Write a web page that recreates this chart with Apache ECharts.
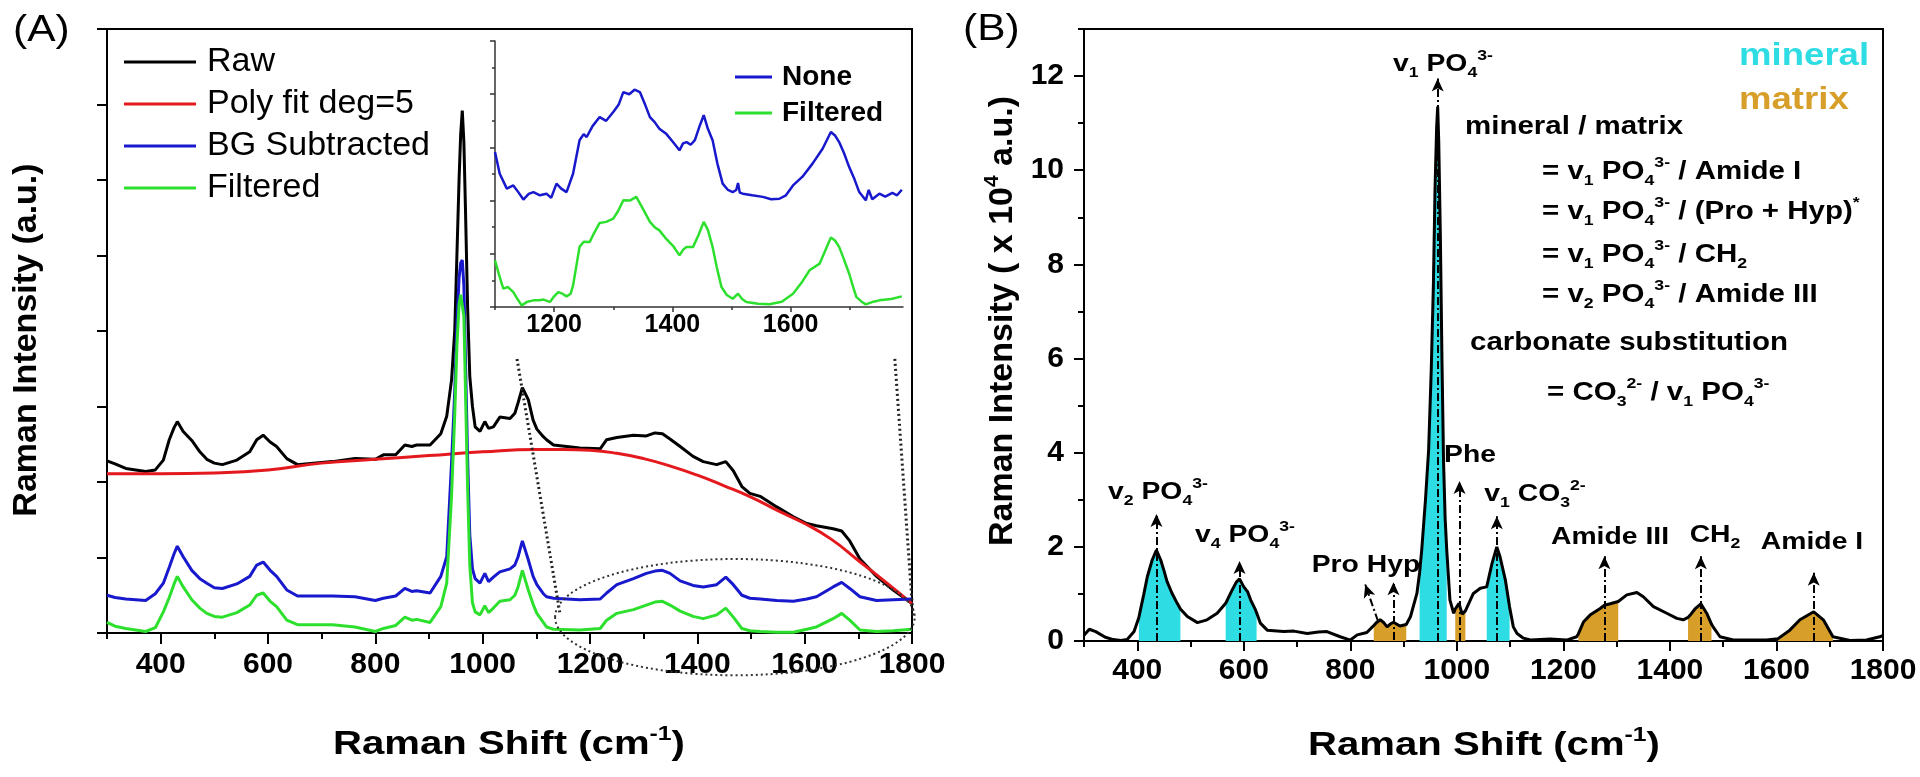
<!DOCTYPE html>
<html><head><meta charset="utf-8">
<script src="https://cdn.jsdelivr.net/npm/echarts@6/dist/echarts.min.js"></script>
<style>html,body{margin:0;padding:0;background:#fff}#c{width:1920px;height:777px}</style>
</head><body><div id="c"></div>
<script>
// ---------- Panel A data (Raman shift, intensity in axis units) ----------
const A_x = [300,315,335,372,390,405,416,425,431,442,458,473,486,500,515,542,566,579,591,604,616,635,655,684,720,762,800,815,838,855,868,877,902,922,933,942,948,952,956,959,962,965,968,972,976,981,986,995,1004,1011,1020,1032,1051,1060,1066,1074,1085,1094,1101,1113,1119,1132,1181,1219,1231,1250,1281,1305,1321,1335,1349,1368,1392,1411,1436,1453,1467,1483,1498,1517,1548,1579,1604,1622,1653,1669,1684,1703,1734,1765,1800];
const A_raw = [2.28,2.24,2.18,2.14,2.16,2.29,2.56,2.72,2.80,2.67,2.55,2.40,2.30,2.25,2.23,2.29,2.40,2.56,2.62,2.53,2.47,2.31,2.23,2.25,2.27,2.31,2.30,2.36,2.36,2.49,2.47,2.49,2.49,2.64,2.87,3.35,4.01,5.0,6.0,6.6,6.92,6.5,5.6,4.3,3.4,3.0,2.73,2.67,2.80,2.71,2.73,2.86,2.84,2.91,3.05,3.25,3.09,2.82,2.70,2.60,2.56,2.49,2.45,2.44,2.56,2.59,2.62,2.61,2.65,2.64,2.57,2.47,2.34,2.27,2.23,2.27,2.15,1.94,1.85,1.81,1.67,1.54,1.45,1.42,1.38,1.35,1.22,0.98,0.75,0.57,0.39];
const A_bg = [0.50,0.47,0.45,0.43,0.52,0.66,0.87,1.05,1.15,1.01,0.83,0.72,0.66,0.60,0.59,0.65,0.75,0.90,0.94,0.83,0.75,0.57,0.49,0.49,0.49,0.48,0.43,0.46,0.49,0.59,0.55,0.56,0.53,0.75,1.01,2.25,3.2,4.1,4.7,4.9,4.94,4.6,3.6,2.3,1.3,0.85,0.72,0.66,0.79,0.68,0.74,0.81,0.85,0.90,1.01,1.22,0.97,0.75,0.64,0.52,0.48,0.46,0.44,0.45,0.53,0.64,0.72,0.79,0.82,0.83,0.79,0.69,0.63,0.61,0.64,0.74,0.64,0.50,0.46,0.45,0.43,0.42,0.45,0.48,0.61,0.67,0.59,0.48,0.43,0.44,0.45];
const A_filt = [0.14,0.09,0.06,0.02,0.07,0.28,0.47,0.65,0.75,0.61,0.44,0.33,0.26,0.22,0.21,0.27,0.37,0.50,0.53,0.42,0.35,0.17,0.11,0.11,0.11,0.08,0.02,0.06,0.10,0.21,0.17,0.18,0.14,0.35,0.66,1.81,2.9,3.8,4.35,4.48,4.50,4.2,3.2,1.9,0.9,0.40,0.28,0.24,0.36,0.27,0.33,0.42,0.44,0.50,0.61,0.83,0.57,0.38,0.26,0.14,0.08,0.05,0.04,0.06,0.17,0.26,0.31,0.37,0.41,0.42,0.37,0.29,0.22,0.19,0.24,0.33,0.21,0.06,0.03,0.02,0.01,0.01,0.05,0.08,0.19,0.26,0.17,0.04,0.02,0.03,0.05];
const A_polyX = [300,400,500,600,700,800,900,1000,1100,1150,1200,1250,1300,1350,1400,1450,1500,1550,1600,1650,1700,1750,1800];
const A_poly = [2.11,2.11,2.12,2.16,2.25,2.30,2.35,2.40,2.43,2.43,2.42,2.38,2.31,2.21,2.09,1.95,1.80,1.62,1.45,1.24,0.96,0.68,0.39];

// ---------- Inset data ----------
const I_noneX = [1100,1108,1120,1131,1140,1148,1157,1165,1176,1187,1195,1204,1212,1221,1232,1243,1250,1255,1265,1277,1288,1300,1309,1317,1327,1336,1345,1354,1362,1370,1378,1390,1401,1412,1418,1424,1431,1438,1446,1453,1460,1468,1476,1485,1494,1502,1508,1511,1514,1519,1535,1553,1567,1581,1592,1604,1620,1637,1654,1668,1675,1682,1690,1699,1708,1716,1727,1732,1738,1750,1760,1772,1780,1788];
const I_none = [5.83,5.01,4.45,4.57,4.30,4.04,4.25,4.32,4.20,4.26,4.10,4.64,4.45,4.32,5.01,6.27,6.50,6.39,6.80,7.14,7.00,7.33,7.60,8.08,8.00,8.17,8.08,7.60,7.14,6.95,6.70,6.50,6.20,5.89,6.15,6.20,6.10,6.27,6.80,7.21,6.70,6.27,5.40,4.64,4.40,4.32,4.40,4.66,4.30,4.26,4.20,4.14,4.05,4.07,4.20,4.57,4.90,5.39,5.95,6.58,6.45,6.20,5.80,5.26,4.80,4.32,4.01,4.40,4.05,4.26,4.15,4.29,4.20,4.41];
const I_filtX = [1100,1107,1114,1122,1131,1138,1145,1155,1165,1175,1182,1193,1200,1207,1214,1221,1228,1232,1238,1243,1250,1260,1268,1277,1288,1300,1308,1317,1328,1339,1350,1362,1370,1378,1390,1401,1412,1418,1424,1435,1444,1453,1460,1468,1475,1483,1492,1502,1511,1518,1525,1545,1564,1585,1604,1618,1632,1649,1660,1668,1675,1682,1690,1699,1705,1711,1720,1727,1740,1750,1770,1788];
const I_filt = [1.75,1.20,0.69,0.75,0.56,0.30,0.06,0.20,0.25,0.25,0.28,0.19,0.40,0.56,0.50,0.40,0.50,0.81,1.60,2.26,2.45,2.44,2.80,3.16,3.20,3.32,3.60,4.01,4.00,4.14,3.70,3.20,3.00,2.88,2.55,2.30,1.94,2.15,2.26,2.26,2.70,3.20,2.90,2.26,1.50,0.75,0.45,0.31,0.50,0.30,0.19,0.12,0.10,0.20,0.50,0.90,1.38,1.63,2.20,2.61,2.50,2.26,1.80,1.25,0.80,0.38,0.20,0.10,0.20,0.25,0.30,0.40];

// ---------- Panel B data (x 10^4 a.u.) ----------
const B_x = [300,310,322,340,355,369,381,394,403,406,412,419,428,436,444,450,456,465,475,481,494,513,531,550,566,578,586,592,600,607,613,622,624,631,644,675,694,719,740,756,781,800,813,831,844,850,856,862,869,875,881,893,905,913,925,930,934,941,947,952,956,959,962,964,966,969,972,975,978,981,987,994,997,1004,1010,1016,1019,1031,1044,1056,1066,1075,1081,1091,1099,1106,1113,1125,1138,1175,1206,1225,1228,1238,1250,1269,1277,1288,1303,1319,1338,1350,1369,1394,1413,1425,1434,1438,1447,1458,1469,1478,1481,1494,1519,1556,1581,1603,1625,1644,1670,1688,1706,1738,1769,1794,1800];
const B_y = [0.12,0.25,0.20,0.08,0.03,0.01,0.03,0.20,0.50,0.66,0.98,1.37,1.72,1.93,1.72,1.50,1.26,1.02,0.80,0.68,0.52,0.39,0.45,0.59,0.80,1.08,1.25,1.32,1.15,1.05,0.87,0.66,0.60,0.38,0.23,0.20,0.21,0.16,0.19,0.20,0.09,0.02,0.13,0.18,0.33,0.40,0.45,0.40,0.30,0.36,0.40,0.32,0.35,0.52,1.01,1.45,1.93,2.99,4.06,5.8,7.6,9.6,10.9,11.35,10.6,8.6,6.0,3.8,2.6,1.93,0.87,0.59,0.68,0.80,0.57,0.64,0.66,1.01,1.12,1.15,1.65,2.00,1.79,1.30,0.72,0.30,0.16,0.06,0.02,0.04,0.02,0.09,0.15,0.41,0.55,0.69,0.76,0.79,0.84,0.98,1.03,0.94,0.73,0.59,0.48,0.45,0.50,0.55,0.68,0.79,0.59,0.36,0.30,0.09,0.02,0.02,0.02,0.05,0.23,0.45,0.62,0.45,0.09,0.01,0.02,0.09,0.12];
const B_mineralBands = [[403,481],[566,624],[930,981],[1056,1099]];
const B_matrixBands = [[844,905],[997,1016],[1228,1303],[1434,1478],[1603,1706]];
const B_arrowFrom = [[436,0],[592,0],[852,0.42],[881,0.02],[964,0],[1005,0],[1075,0],[1277,0],[1458,0],[1670,0]];
const B_arrowTo = [[436,2.7],[592,1.7],[828,1.2],[881,1.25],[964,11.95],[1005,3.4],[1075,2.65],[1277,1.8],[1458,1.8],[1670,1.45]];

// ---------- tick values ----------
const X_major = [400,600,800,1000,1200,1400,1600,1800];
const X_minor = [300,500,700,900,1100,1300,1500,1700];
const I_xMajor = [1200,1400,1600];
const I_xMinor = [1100,1300,1500,1700];
const B_yMajor = [0,2,4,6,8,10,12];
const B_yMinor = [1,3,5,7,9,11,13];

const FF = '"Liberation Sans", Arial, Helvetica, sans-serif';
const SX = 1.18;
const C_RAW = '#000000', C_POLY = '#E3191E', C_BG = '#1818CC', C_FILT = '#2EE02E';
const C_MIN = '#2EDDE4', C_MAT = '#D89E2A';

const pair = (xs, ys) => xs.map((x, i) => [x, ys[i]]);
const plain = v => String(v);

function xAx(gi, min, max, ticks, labels, len, showLine, fs, lw, color, margin) {
  return {
    type: 'value', gridIndex: gi, min, max, position: 'bottom',
    axisLine: {show: showLine, onZero: false, lineStyle: {color, width: lw}},
    axisTick: {show: true, inside: false, length: len, customValues: ticks, lineStyle: {color, width: lw}},
    axisLabel: labels ? {show: true, customValues: labels, formatter: plain, fontSize: fs, fontWeight: 'bold', fontFamily: FF, color: '#000', margin: margin} : {show: false},
    splitLine: {show: false}
  };
}

const lineS = (name, data, color, w, xi, yi, extra) => Object.assign({
  name, type: 'line', data, xAxisIndex: xi, yAxisIndex: yi, symbol: 'none', showSymbol: false,
  color, lineStyle: {color, width: w}, itemStyle: {color}, z: 3, silent: true
}, extra || {});

const bandSeries = (bands, color, name) => bands.map(([a, b]) => ({
  name, type: 'line', xAxisIndex: 4, yAxisIndex: 2, symbol: 'none', showSymbol: false, silent: true, z: 1,
  data: pair(B_x, B_y).filter(p => p[0] >= a && p[0] <= b),
  lineStyle: {width: 0}, areaStyle: {color, opacity: 1}, itemStyle: {color}
}));

const option = {
  animation: false,
  backgroundColor: '#fff',
  textStyle: {fontFamily: FF},
  grid: [
    {left: 107, top: 29, width: 805, height: 604, show: true, borderColor: '#000', borderWidth: 2, backgroundColor: 'transparent'},
    {left: 495, top: 41, width: 408, height: 266, show: false},
    {left: 1084, top: 29, width: 799, height: 612, show: true, borderColor: '#000', borderWidth: 2, backgroundColor: 'transparent'}
  ],
  xAxis: [
    xAx(0, 300, 1800, X_major, X_major, 11, true, 30, 2, '#000', 17),
    xAx(0, 300, 1800, X_minor, null, 6, false, 30, 2, '#000', 17),
    xAx(1, 1100, 1790, I_xMajor, I_xMajor, 5, true, 25, 1.5, '#333', 6),
    xAx(1, 1100, 1790, I_xMinor, null, 3, false, 25, 1.5, '#333', 6),
    xAx(2, 300, 1800, X_major, X_major, 10, true, 30, 2, '#000', 15),
    xAx(2, 300, 1800, X_minor, null, 6, false, 30, 2, '#000', 15)
  ],
  yAxis: [
    {type: 'value', gridIndex: 0, min: 0, max: 8, interval: 1, position: 'left',
     axisLine: {show: true, onZero: false, lineStyle: {color: '#000', width: 2}},
     axisTick: {show: true, length: 10, lineStyle: {color: '#000', width: 2}},
     axisLabel: {show: false}, splitLine: {show: false}},
    {type: 'value', gridIndex: 1, min: 0, max: 10, interval: 2, position: 'left',
     axisLine: {show: true, onZero: false, lineStyle: {color: '#333', width: 1.5}},
     axisTick: {show: true, length: 5, lineStyle: {color: '#333', width: 1.5}},
     minorTick: {show: true, splitNumber: 2, length: 3, lineStyle: {color: '#333', width: 1.5}},
     axisLabel: {show: false}, splitLine: {show: false}, minorSplitLine: {show: false}},
    {type: 'value', gridIndex: 2, min: 0, max: 13, position: 'left',
     axisLine: {show: true, onZero: false, lineStyle: {color: '#000', width: 2}},
     axisTick: {show: true, length: 10, customValues: B_yMajor, lineStyle: {color: '#000', width: 2}},
     axisLabel: {show: true, customValues: B_yMajor, formatter: plain, fontSize: 30, fontWeight: 'bold', fontFamily: FF, color: '#000', margin: 20},
     splitLine: {show: false}},
    {type: 'value', gridIndex: 2, min: 0, max: 13, position: 'left',
     axisLine: {show: false},
     axisTick: {show: true, length: 6, customValues: B_yMinor, lineStyle: {color: '#000', width: 2}},
     axisLabel: {show: false}, splitLine: {show: false}}
  ],
  legend: [
    {data: ['Raw', 'Poly fit deg=5', 'BG Subtracted', 'Filtered'], orient: 'vertical', left: 119, top: 39,
     icon: 'rect', itemWidth: 72, itemHeight: 3, itemGap: 6, selectedMode: false,
     textStyle: {fontSize: 34, lineHeight: 36, color: '#000', fontFamily: FF, padding: [0, 0, 0, 6]}},
    {data: ['None', 'Filtered'], orient: 'vertical', left: 730, top: 56,
     icon: 'rect', itemWidth: 37, itemHeight: 3, itemGap: 4, selectedMode: false,
     textStyle: {fontSize: 28, fontWeight: 'bold', lineHeight: 32, color: '#000', fontFamily: FF, padding: [0, 0, 0, 5]}}
  ],
  series: [
    lineS('Raw', pair(A_x, A_raw), C_RAW, 3, 0, 0),
    lineS('Poly fit deg=5', pair(A_polyX, A_poly), C_POLY, 3, 0, 0, {smooth: true}),
    lineS('BG Subtracted', pair(A_x, A_bg), C_BG, 3, 0, 0),
    lineS('Filtered', pair(A_x, A_filt), C_FILT, 3, 0, 0),
    lineS('None', pair(I_noneX, I_none), C_BG, 2.5, 2, 1),
    lineS('Filtered', pair(I_filtX, I_filt), C_FILT, 2.5, 2, 1),
    ...bandSeries(B_mineralBands, C_MIN, 'mineral'),
    ...bandSeries(B_matrixBands, C_MAT, 'matrix'),
    lineS('Spectrum', pair(B_x, B_y), '#000', 3, 4, 2, {
      markLine: {
        silent: true, symbol: ['none', 'arrow'], symbolSize: [9, 13], animation: false,
        lineStyle: {color: '#000', width: 2, type: [8, 3, 2, 3]},
        label: {show: false}, emphasis: {disabled: true},
        data: B_arrowFrom.map((f, i) => [{coord: f}, {coord: B_arrowTo[i]}])
      }
    })
  ]
};

const chart = echarts.init(document.getElementById('c'), null, {renderer: 'canvas'});
chart.setOption(option);

// ---------- annotations ----------
const toA = p => chart.convertToPixel({seriesIndex: 0}, p);

function rich(fs, ss, color) {
  color = color || '#000';
  return {
    b: {fontSize: fs, fontWeight: 'bold', fontFamily: FF, fill: color, lineHeight: fs + 8, verticalAlign: 'middle'},
    s: {fontSize: ss, fontWeight: 'bold', fontFamily: FF, fill: color, lineHeight: ss, verticalAlign: 'bottom'},
    p: {fontSize: ss, fontWeight: 'bold', fontFamily: FF, fill: color, lineHeight: ss, verticalAlign: 'top'}
  };
}
function txt(text, x, y, o) {
  o = o || {};
  return {
    type: 'text', x, y, z: 100, scaleX: o.sx === undefined ? SX : o.sx, rotation: o.rot || 0, silent: true,
    style: {
      text, rich: o.rich, fill: o.color || '#000',
      fontSize: o.fs || 24, fontWeight: o.fw || 'bold', fontFamily: FF,
      align: o.align || 'center', verticalAlign: 'middle',
      textAlign: o.align || 'center', textVerticalAlign: 'middle'
    }
  };
}

const l1a = toA([1064, 3.63]), l1b = toA([1144, 0.26]);
const l2a = toA([1768, 3.63]), l2b = toA([1802, 0.21]);
const ec = toA([1470, 0.21]), ee = toA([1470 + 335, 0.21 + 0.77]);

const R24 = rich(24, 15);
const RT = rich(25, 15);
const RAX = rich(34, 21);

const graphics = [
  {type: 'line', z: 90, silent: true, shape: {x1: l1a[0], y1: l1a[1], x2: l1b[0], y2: l1b[1]},
   style: {stroke: '#222', lineWidth: 3, lineDash: [2, 3]}},
  {type: 'line', z: 90, silent: true, shape: {x1: l2a[0], y1: l2a[1], x2: l2b[0], y2: l2b[1]},
   style: {stroke: '#222', lineWidth: 3, lineDash: [2, 3]}},
  {type: 'ellipse', z: 90, silent: true, shape: {cx: ec[0], cy: ec[1], rx: ee[0] - ec[0], ry: ec[1] - ee[1]},
   style: {stroke: '#333', fill: null, lineWidth: 2, lineDash: [2, 3]}},

  txt('(A)', 13, 31, {fs: 36, fw: 'normal', align: 'left'}),
  txt('(B)', 963, 30, {fs: 36, fw: 'normal', align: 'left'}),

  txt('{b|Raman Shift (cm}{p|-1}{b|)}', 509, 745, {rich: RAX}),
  txt('{b|Raman Shift (cm}{p|-1}{b|)}', 1484, 746, {rich: RAX}),
  txt('{b|Raman Intensity (a.u.)}', 27, 340, {rich: RAX, rot: Math.PI / 2, sx: 1}),
  txt('{b|Raman Intensity ( x 10}{p|4}{b| a.u.)}', 1003, 321, {rich: RAX, rot: Math.PI / 2, sx: 1}),

  txt('mineral', 1739, 56, {fs: 31, color: C_MIN, align: 'left'}),
  txt('matrix', 1739, 100, {fs: 31, color: C_MAT, align: 'left'}),

  txt('{b|mineral / matrix}', 1465, 127, {rich: RT, align: 'left'}),
  txt('{b|= v}{s|1}{b| PO}{s|4}{p|3-}{b| / Amide I}', 1542, 172, {rich: RT, align: 'left'}),
  txt('{b|= v}{s|1}{b| PO}{s|4}{p|3-}{b| / (Pro + Hyp)}{p|*}', 1542, 212, {rich: RT, align: 'left'}),
  txt('{b|= v}{s|1}{b| PO}{s|4}{p|3-}{b| / CH}{s|2}', 1542, 255, {rich: RT, align: 'left'}),
  txt('{b|= v}{s|2}{b| PO}{s|4}{p|3-}{b| / Amide III}', 1542, 295, {rich: RT, align: 'left'}),
  txt('{b|carbonate substitution}', 1470, 343, {rich: RT, align: 'left'}),
  txt('{b|= CO}{s|3}{p|2-}{b| / v}{s|1}{b| PO}{s|4}{p|3-}', 1547, 393, {rich: RT, align: 'left'}),

  txt('{b|v}{s|1}{b| PO}{s|4}{p|3-}', 1443, 64, {rich: R24}),
  txt('{b|v}{s|2}{b| PO}{s|4}{p|3-}', 1158, 492, {rich: R24}),
  txt('{b|v}{s|4}{b| PO}{s|4}{p|3-}', 1245, 535, {rich: R24}),
  txt('{b|Pro Hyp}', 1366, 565, {rich: R24}),
  txt('{b|Phe}', 1470, 455, {rich: R24}),
  txt('{b|v}{s|1}{b| CO}{s|3}{p|2-}', 1535, 494, {rich: R24}),
  txt('{b|Amide III}', 1610, 537, {rich: R24}),
  txt('{b|CH}{s|2}', 1715, 535, {rich: R24}),
  txt('{b|Amide I}', 1812, 542, {rich: R24})
];
chart.setOption({graphic: graphics});
</script>
</body></html>
